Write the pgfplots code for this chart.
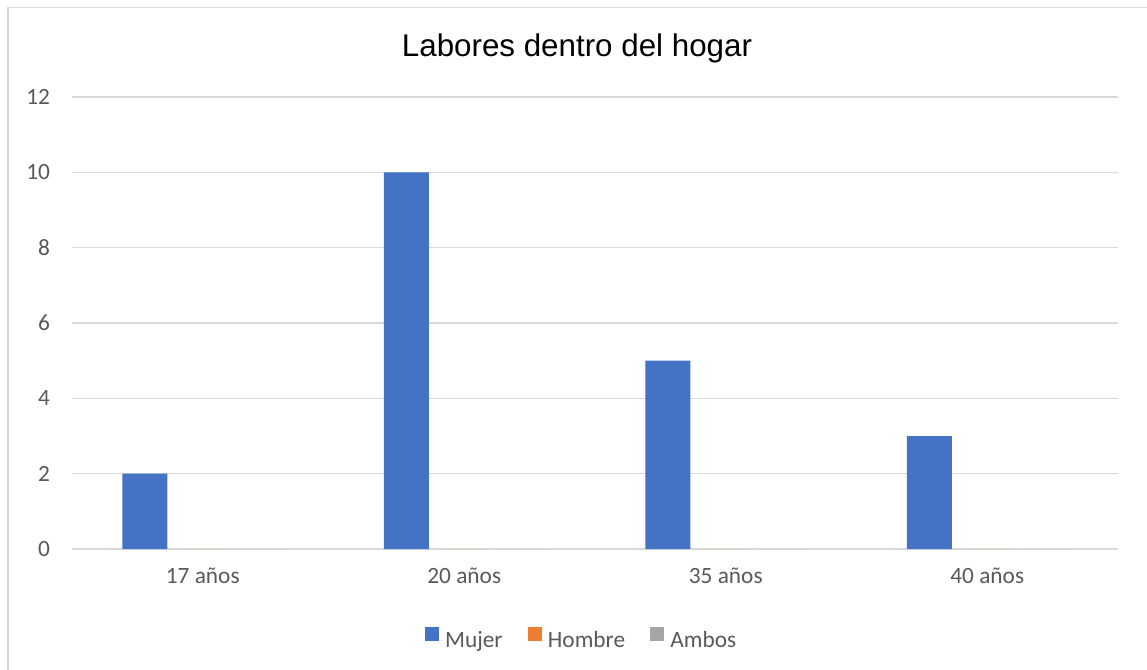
\documentclass[border=0pt]{standalone}
\usepackage{pgfplots}
\pgfplotsset{compat=1.18}
\usepackage{fontspec}
\setmainfont{Carlito}
\newfontfamily\titlefont{Liberation Sans}

\definecolor{mujer}{HTML}{4472C4}
\definecolor{hombre}{HTML}{ED7D31}
\definecolor{ambos}{HTML}{A5A5A5}
\definecolor{gridgray}{HTML}{D9D9D9}
\definecolor{labelgray}{HTML}{595959}

\begin{document}
\begin{tikzpicture}
% picture is 1147 x 669 px, 1 px = 0.75pt
\useasboundingbox (0,0) rectangle (860.25pt,501.75pt);
\draw[gridgray, line width=1.1pt] ({8*0.75pt},-5pt) -- ({8*0.75pt},{(669-7.5)*0.75pt}) -- (870pt,{(669-7.5)*0.75pt});

\node[anchor=base, font=\titlefont\fontsize{23.5}{27}\selectfont, text=black]
  at ({577*0.75pt},{(669-57)*0.75pt}) {Labores dentro del hogar};

\begin{axis}[
    at={(54pt,90pt)}, anchor=south west,
    scale only axis,
    width=784.5pt, height=339pt,
    xmin=-0.5, xmax=3.5,
    ymin=0, ymax=12,
    ytick={0,2,...,12},
    xtick={0,1,2,3},
    xticklabels={17 años,20 años,35 años,40 años},
    major tick length=0pt,
    axis line style={draw=none},
    ymajorgrids,
    grid style={gridgray, line width=0.9pt},
    /pgf/number format/assume math mode=true,
    tick label style={font=\fontsize{17.5}{20}\selectfont, text=labelgray},
    y tick label style={xshift=-13pt},
    x tick label style={yshift=-11pt},
    ybar, bar width=33.75pt,
    legend columns=3,
    legend style={at={(0.4876,-0.165)}, anchor=north, draw=none,
      font=\fontsize{17.5}{20}\selectfont, text=labelgray,
      /tikz/every even column/.append style={column sep=17pt}},
    legend image code/.code={\fill[#1] (0pt,0pt) rectangle (10.5pt,10.5pt);
      \path (0pt,0pt) -- (13pt,0pt);},
]
\addplot[fill=mujer, draw=none, bar shift=-43.5pt] coordinates {(0,2) (1,10) (2,5) (3,3)};
\addlegendentry{Mujer}
\addplot[fill=hombre, draw=none, bar shift=0pt] coordinates {(0,0) (1,0) (2,0) (3,0)};
\addlegendentry{Hombre}
\addplot[fill=ambos, draw=none, bar shift=43.5pt] coordinates {(0,0) (1,0) (2,0) (3,0)};
\addlegendentry{Ambos}
\end{axis}
\end{tikzpicture}
\end{document}
